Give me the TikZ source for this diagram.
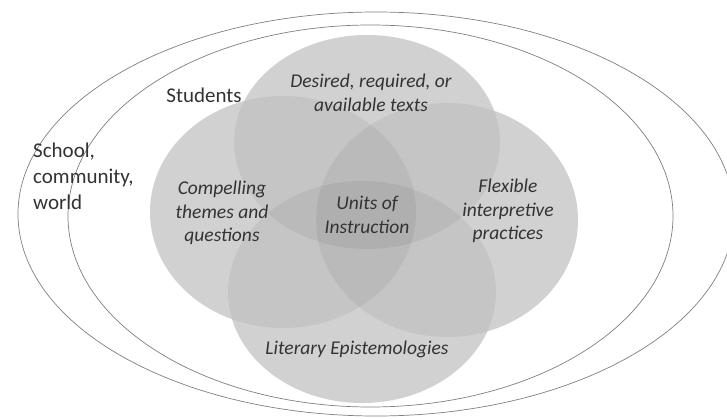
\documentclass[tikz,border=0pt]{standalone}
\usepackage{fontspec}
\setmainfont{Carlito}
\definecolor{petalbase}{gray}{0.87}
\begin{document}
\begin{tikzpicture}[x=1pt,y=-1pt,
  ring/.style={draw=black!50,line width=0.7pt},
  petal/.style={fill=black,fill opacity=0.055,draw=none},
  lbl/.style={text=black!80,align=center,font=\fontsize{19.5}{23.5}\selectfont\itshape,inner sep=0pt},
  plain/.style={text=black!80,font=\fontsize{21}{26}\selectfont,inner sep=0pt}]
  \useasboundingbox (0,0) rectangle (727,419);
  \clip (0,0) rectangle (727,419);
  \fill[white] (0,0) rectangle (727,419);

  % the two surrounding contexts
  \draw[ring] (376,214) ellipse [x radius=358,y radius=202];
  \draw[ring] (370.5,216) ellipse [x radius=302.5,y radius=191];

  % four overlapping areas of the unit: a common light base, then layered shading
  \foreach \cx/\cy/\rx/\ry in {367/142/133/107, 362/292/134/111, 283/212/133/116, 447/220/131/117}{
    \fill[petalbase] (\cx,\cy) ellipse [x radius=\rx,y radius=\ry];
  }
  \foreach \cx/\cy/\rx/\ry in {367/142/133/107, 362/292/134/111, 283/212/133/116, 447/220/131/117}{
    \fill[petal] (\cx,\cy) ellipse [x radius=\rx,y radius=\ry];
  }

  % labels
  \node[plain,align=left,anchor=north west] (world) at (33,143) {School,\\community,\\world};
  \node[plain] (students) at (204,95) {Students};
  \node[lbl] (texts) at (371,93) {Desired, required, or\\available texts};
  \node[lbl] (themes) at (222,213) {Compelling\\themes and\\questions};
  \node[lbl] (units) at (367,215) {Units of\\Instruction};
  \node[lbl] (practices) at (508,211) {Flexible\\interpretive\\practices};
  \node[lbl] (epist) at (357,349) {Literary Epistemologies};
\end{tikzpicture}
\end{document}
